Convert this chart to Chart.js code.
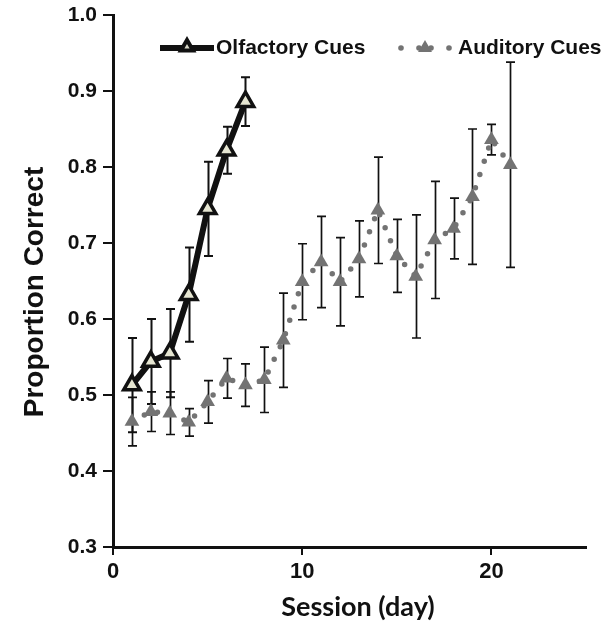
<!DOCTYPE html>
<html>
<head>
<meta charset="utf-8">
<script src="https://cdn.jsdelivr.net/npm/chart.js@4/dist/chart.umd.min.js"></script>
<style>
  html, body { margin: 0; padding: 0; background: #ffffff; }
  #wrap { width: 605px; height: 630px; position: relative; }
</style>
</head>
<body>
<div id="wrap"><canvas id="chart"></canvas></div>
<script>
// Sessions and mean proportion correct (± error) for each cue type
const olfactorySessions = [1, 2, 3, 4, 5, 6, 7];
const olfactoryMean = [0.513, 0.544, 0.555, 0.632, 0.745, 0.822, 0.886];
const olfactoryErr  = [0.062, 0.056, 0.058, 0.062, 0.062, 0.031, 0.032];

const auditorySessions = [1, 2, 3, 4, 5, 6, 7, 8, 9, 10, 11, 12, 13, 14, 15, 16, 17, 18, 19, 20, 21];
const auditoryMean = [0.465, 0.478, 0.476, 0.464, 0.491, 0.522, 0.513, 0.520, 0.572, 0.649, 0.675,
                      0.649, 0.679, 0.743, 0.683, 0.656, 0.704, 0.719, 0.761, 0.836, 0.803];
const auditoryErr  = [0.032, 0.026, 0.028, 0.018, 0.028, 0.026, 0.028, 0.043, 0.062, 0.050, 0.060,
                      0.058, 0.050, 0.070, 0.048, 0.081, 0.077, 0.040, 0.089, 0.020, 0.135];

const xTickValues = [0, 10, 20];
const yTickValues = [0.3, 0.4, 0.5, 0.6, 0.7, 0.8, 0.9, 1.0];

const seriesNames = ['Olfactory Cues', 'Auditory Cues'];
const xTitle = 'Session (day)';
const yTitle = 'Proportion Correct';

const toPoints = (xs, ys) => xs.map((x, i) => ({ x: x, y: ys[i] }));

const ARIAL = '"Liberation Sans", Arial, sans-serif';
const GREY = '#737373';

function trianglePath(ctx, cx, cy, r) {
  ctx.beginPath();
  for (let k = 0; k < 3; k++) {
    const a = k * 2 * Math.PI / 3;
    const px = cx + Math.sin(a) * r;
    const py = cy - Math.cos(a) * r;
    if (k === 0) ctx.moveTo(px, py); else ctx.lineTo(px, py);
  }
  ctx.closePath();
}

// vertical error bars with caps, drawn under the markers
const errorBars = {
  id: 'errorBars',
  beforeDatasetsDraw(chart) {
    const { ctx, scales: { x, y } } = chart;
    ctx.save();
    for (let d = chart.data.datasets.length - 1; d >= 0; d--) {
      const ds = chart.data.datasets[d];
      ctx.strokeStyle = '#111';
      ctx.lineWidth = ds.errWidth;
      ds.data.forEach((p, i) => {
        const e = ds.errors[i];
        const px = Math.round(x.getPixelForValue(p.x)) + 0.5;
        const top = y.getPixelForValue(p.y + e);
        const bot = y.getPixelForValue(p.y - e);
        const cap = 4.5;
        ctx.beginPath();
        ctx.moveTo(px, top); ctx.lineTo(px, bot);
        ctx.moveTo(px - cap, top); ctx.lineTo(px + cap, top);
        ctx.moveTo(px - cap, bot); ctx.lineTo(px + cap, bot);
        ctx.stroke();
      });
    }
    ctx.restore();
  }
};

// legend row across the top with line samples, plus the two axis titles
const decorations = {
  id: 'decorations',
  afterDraw(chart) {
    const ctx = chart.ctx;
    ctx.save();
    const ly = 48;
    // olfactory sample
    ctx.strokeStyle = '#111';
    ctx.lineWidth = 6;
    ctx.beginPath(); ctx.moveTo(160, ly); ctx.lineTo(214, ly); ctx.stroke();
    trianglePath(ctx, 187, ly - 1, 7);
    ctx.fillStyle = '#d8d8c8'; ctx.lineWidth = 4; ctx.fill(); ctx.stroke();
    // auditory sample
    ctx.fillStyle = GREY;
    [401, 449].forEach(cx => { ctx.beginPath(); ctx.arc(cx, ly, 2.8, 0, 2 * Math.PI); ctx.fill(); });
    trianglePath(ctx, 425, ly, 8); ctx.fill();
    [419, 431].forEach(cx => { ctx.beginPath(); ctx.arc(cx, ly, 2.8, 0, 2 * Math.PI); ctx.fill(); });
    ctx.fillStyle = '#111';
    ctx.font = 'bold 21px ' + ARIAL;
    ctx.textBaseline = 'middle';
    ctx.textAlign = 'left';
    ctx.fillText(seriesNames[0], 216, ly);
    ctx.fillText(seriesNames[1], 458, ly);
    // axis titles
    ctx.font = 'bold 27px Lato, "Open Sans", sans-serif';
    ctx.textAlign = 'center';
    ctx.fillText(xTitle, 358, 607);
    ctx.translate(35, 292);
    ctx.rotate(-Math.PI / 2);
    ctx.font = 'bold 28px ' + ARIAL;
    ctx.fillText(yTitle, 0, 0);
    ctx.restore();
  }
};

new Chart(document.getElementById('chart'), {
  type: 'line',
  data: {
    datasets: [
      {
        label: seriesNames[0],
        data: toPoints(olfactorySessions, olfactoryMean),
        errors: olfactoryErr,
        errWidth: 2,
        borderColor: '#111',
        borderWidth: 6,
        pointStyle: 'triangle',
        pointRadius: 9.5,
        pointBorderWidth: 3.5,
        pointBackgroundColor: '#e6e6d2',
        pointBorderColor: '#111',
        tension: 0
      },
      {
        label: seriesNames[1],
        data: toPoints(auditorySessions, auditoryMean),
        errors: auditoryErr,
        errWidth: 1.7,
        borderColor: GREY,
        borderWidth: 5.5,
        borderDash: [0, 14],
        borderCapStyle: 'round',
        pointStyle: 'triangle',
        pointRadius: 8.5,
        pointBorderWidth: 0,
        pointBackgroundColor: GREY,
        pointBorderColor: GREY,
        tension: 0
      }
    ]
  },
  options: {
    responsive: true,
    maintainAspectRatio: false,
    animation: false,
    layout: { padding: { left: 0, right: 19, top: 15, bottom: 0 } },
    plugins: { legend: { display: false }, tooltip: { enabled: false } },
    scales: {
      x: {
        type: 'linear',
        min: 0, max: 25,
        afterFit(s) { s.height = 83; },
        afterBuildTicks(s) { s.ticks = xTickValues.map(v => ({ value: v })); },
        ticks: { color: '#111', font: { family: ARIAL, size: 22, weight: 'bold' }, padding: 4 },
        grid: { display: true, drawOnChartArea: false, drawTicks: true, tickLength: 8, color: '#111', lineWidth: 2 },
        border: { display: true, color: '#111', width: 3 }
      },
      y: {
        type: 'linear',
        min: 0.3, max: 1.0,
        afterFit(s) { s.width = 113; s.paddingTop = 0; s.paddingBottom = 0; },
        afterBuildTicks(s) { s.ticks = yTickValues.map(v => ({ value: v })); },
        ticks: {
          color: '#111', font: { family: ARIAL, size: 21, weight: 'bold', lineHeight: 1 }, padding: 6,
          callback: v => Number(v).toFixed(1)
        },
        grid: { display: true, drawOnChartArea: false, drawTicks: true, tickLength: 10, color: '#111', lineWidth: 2 },
        border: { display: true, color: '#111', width: 3 }
      }
    }
  },
  plugins: [errorBars, decorations]
});
</script>
</body>
</html>
